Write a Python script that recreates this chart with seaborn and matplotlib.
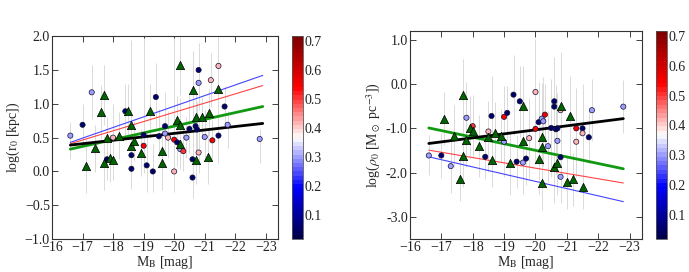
import numpy as np
import pandas as pd
import matplotlib
matplotlib.use("Agg")
import matplotlib.pyplot as plt
import seaborn as sns

# ---- left panel: log(r0) ----
lc_x = [-16.6, -17.0, -17.3, -17.8, -18.0, -18.4, -18.6, -18.6, -19.0, -19.0, -19.1, -19.3, -19.4,
        -19.5, -19.7, -19.7, -19.8, -20.0, -20.0, -20.1, -20.2, -20.3, -20.4, -20.5, -20.6, -20.6,
        -20.7, -20.75, -20.8, -20.8, -20.8, -21.0, -21.25, -21.2, -21.45, -21.45, -21.65, -21.75, -22.8]
lc_y = [0.53, 0.69, 1.17, 0.18, 0.50, 0.89, 0.04, 0.24, 0.38, 0.54, 0.09, 0.00, 1.10,
        0.52, 0.67, 0.56, 0.50, 0.47, 0.00, 0.43, 0.33, 0.30, 0.50, 0.63, -0.09, 0.18,
        0.67, 0.62, 0.28, 1.31, 1.50, 0.51, 0.46, 1.35, 1.56, 0.53, 0.96, 0.69, 0.48]
lc_c = [0.30, 0.05, 0.30, 0.05, 0.42, 0.05, 0.05, 0.05, 0.55, 0.05, 0.05, 0.05, 0.05,
        0.05, 0.05, 0.30, 0.42, 0.55, 0.42, 0.05, 0.30, 0.50, 0.30, 0.05, 0.05, 0.05,
        0.05, 0.05, 0.42, 0.30, 0.05, 0.30, 0.55, 0.42, 0.42, 0.05, 0.05, 0.30, 0.30]
lc_elo = [0.35, 0.3, 0.4, 0.3, 0.35, 0.35, 0.3, 0.35, 0.4, 0.3, 0.4, 0.3, 0.45,
          0.3, 0.35, 0.3, 0.3, 0.3, 0.3, 0.35, 0.3, 0.3, 0.3, 0.35, 0.3, 0.3,
          0.4, 0.3, 0.3, 0.4, 0.4, 0.35, 0.3, 0.4, 0.4, 0.4, 0.3, 0.35, 0.35]
lc_ehi = [0.2, 0.3, 0.4, 0.5, 0.5, 0.4, 1.9, 0.6, 1.6, 0.3, 0.5, 0.4, 0.5,
          0.4, 0.5, 0.3, 0.4, 1.5, 0.5, 0.4, 0.4, 0.4, 0.3, 0.5, 0.5, 1.6,
          0.4, 0.4, 0.5, 0.4, 0.4, 0.4, 0.3, 0.4, 0.45, 0.4, 0.3, 0.2, 0.15]

lt_x = [-17.1, -17.4, -17.6, -17.7, -17.7, -17.8, -17.9, -18.0, -18.2, -18.5, -18.6, -18.6, -18.7,
        -18.9, -19.2, -19.6, -19.6, -20.1, -20.2, -20.2, -20.2, -20.6, -20.7, -20.7, -20.9, -21.1,
        -21.15, -21.45]
lt_y = [0.08, 0.34, 0.88, 1.13, 0.12, 0.50, 0.20, 0.17, 0.53, 0.89, 0.68, 0.38, 0.45,
        0.28, 0.89, 0.30, 0.12, 0.76, 0.68, 1.58, 0.40, 1.20, 0.80, 0.17, 0.80, 0.22,
        0.87, 1.22]
lt_err = [0.4, 0.35, 0.4, 0.45, 0.4, 0.3, 0.35, 0.3, 0.35, 0.4, 0.4, 0.35, 0.3,
          0.35, 0.4, 0.35, 0.4, 0.35, 0.4, 0.45, 0.35, 0.4, 0.35, 0.35, 0.3, 0.4,
          0.35, 0.4]

l_fit_x = [-16.6, -22.9]
l_fit = {"blue": [0.43, 1.42], "red": [0.41, 1.27], "green": [0.33, 0.96], "black": [0.39, 0.71]}

# ---- right panel: log(rho0) ----
rc_x = [-16.6, -17.0, -17.3, -17.8, -18.0, -18.4, -18.5, -18.6, -19.0, -19.0, -19.1, -19.3, -19.4,
        -19.5, -19.6, -19.7, -19.8, -20.0, -20.0, -20.1, -20.2, -20.25, -20.3, -20.4, -20.5, -20.6,
        -20.6, -20.65, -20.7, -20.7, -20.8, -20.8, -20.8, -21.3, -21.3, -21.5, -21.5, -21.7, -21.8, -22.8]
rc_y = [-1.61, -1.61, -1.85, -0.76, -0.95, -1.64, -1.07, -0.72, -0.74, -1.30, -0.65, -0.24, -1.75,
        -0.39, -1.77, -1.68, -1.22, -0.18, -1.01, -0.86, -0.78, -0.84, -0.69, -1.40, -0.99, -0.39,
        -0.51, -1.02, -1.00, -1.28, -0.59, -1.65, -2.09, -1.00, -1.30, -1.00, -1.11, -1.20, -0.59, -0.51]
rc_c = [0.30, 0.05, 0.30, 0.30, 0.50, 0.05, 0.42, 0.05, 0.55, 0.30, 0.05, 0.05, 0.05,
        0.05, 0.30, 0.05, 0.42, 0.42, 0.55, 0.05, 0.30, 0.30, 0.55, 0.30, 0.05, 0.05,
        0.05, 0.05, 0.05, 0.30, 0.42, 0.05, 0.30, 0.55, 0.42, 0.05, 0.42, 0.05, 0.30, 0.30]
rc_err = [0.45, 0.5, 0.6, 0.8, 0.7, 0.5, 0.6, 0.9, 0.7, 0.8, 0.6, 0.9, 0.6,
          0.8, 0.7, 0.6, 0.9, 1.2, 0.8, 0.9, 0.8, 1.0, 0.7, 0.8, 1.1, 1.0,
          0.9, 1.0, 0.8, 0.9, 1.3, 0.7, 0.6, 0.9, 0.8, 1.0, 0.7, 0.6, 0.7, 0.6]

rt_x = [-17.1, -17.4, -17.6, -17.7, -17.7, -17.8, -17.9, -18.0, -18.2, -18.5, -18.6, -18.7, -18.9,
        -19.2, -19.6, -19.6, -20.1, -20.2, -20.2, -20.2, -20.6, -20.7, -20.8, -21.0, -21.1, -21.2, -21.5]
rt_y = [-0.78, -1.17, -2.14, -0.24, -1.62, -1.26, -0.98, -1.06, -1.39, -1.19, -1.71, -1.11, -1.17,
        -1.79, -0.50, -1.28, -1.68, -1.19, -1.43, -2.24, -1.88, -1.79, -0.50, -2.21, -0.73, -2.15, -2.31]
rt_err = [0.6, 0.7, 0.5, 0.8, 0.7, 0.6, 0.7, 0.6, 0.7, 0.8, 0.6, 0.7, 0.6,
          0.7, 0.9, 0.7, 0.8, 0.9, 0.7, 0.6, 0.8, 0.7, 1.0, 0.6, 0.9, 0.6, 0.5]

r_fit_x = [-16.6, -22.8]
r_fit = {"blue": [-1.64, -2.65], "red": [-1.49, -2.23], "green": [-0.99, -1.91], "black": [-1.34, -0.78]}

# ---- style ----
sns.set_style("ticks")
plt.rcParams["font.family"] = "serif"
plt.rcParams["font.serif"] = ["Liberation Serif", "DejaVu Serif"]
plt.rcParams["mathtext.fontset"] = "stix"
plt.rcParams["axes.edgecolor"] = "#333333"
plt.rcParams["xtick.color"] = "#222222"
plt.rcParams["ytick.color"] = "#222222"

cmap = plt.get_cmap("seismic").resampled(48)
norm = matplotlib.colors.Normalize(vmin=0.017, vmax=0.718)
line_style = {"blue": ("#4444ff", 0.8), "red": ("#ff4444", 0.8),
              "green": ("#119911", 2.0), "black": ("black", 2.0)}

fig = plt.figure(figsize=(6.89, 2.72), dpi=100)
ax1 = fig.add_axes([0.0755, 0.121, 0.328, 0.746])
cax1 = fig.add_axes([0.424, 0.121, 0.016, 0.746])
ax2 = fig.add_axes([0.595, 0.12, 0.337, 0.767])
cax2 = fig.add_axes([0.952, 0.12, 0.016, 0.767])


def panel(ax, cax, cx, cy, cc, celo, cehi, tx, ty, terr, fx, fits):
    ax.errorbar(cx, cy, yerr=[celo, cehi], fmt="none", ecolor="#dadada", elinewidth=0.7, zorder=1)
    ax.errorbar(tx, ty, yerr=terr, fmt="none", ecolor="#dadada", elinewidth=0.7, zorder=1)
    for name in ["blue", "red", "green", "black"]:
        col, lw = line_style[name]
        sns.lineplot(x=fx, y=fits[name], color=col, lw=lw, ax=ax, zorder=2)
    df_c = pd.DataFrame({"x": cx, "y": cy, "c": cc})
    ax.scatter(df_c["x"], df_c["y"], c=df_c["c"], cmap=cmap, norm=norm, s=14,
               edgecolors="#111133", linewidths=0.5, zorder=3)
    df_t = pd.DataFrame({"x": tx, "y": ty})
    sns.scatterplot(data=df_t, x="x", y="y", marker="^", s=36, color="#006400",
                    edgecolor="black", linewidth=0.5, ax=ax, zorder=4)
    ax.set_xlim(-16, -23.4)
    ax.set_xticks([-16, -17, -18, -19, -20, -21, -22, -23])
    ax.tick_params(direction="in", top=True, right=True, length=4, width=0.6,
                   labelsize=10, pad=1.5)
    for s in ax.spines.values():
        s.set_linewidth(0.8)
    ax.set_xlabel(r"M$_\mathrm{B}$ [mag]", fontsize=10, labelpad=0)
    sm = matplotlib.cm.ScalarMappable(norm=norm, cmap=cmap)
    cb = fig.colorbar(sm, cax=cax, ticks=[0.1, 0.2, 0.3, 0.4, 0.5, 0.6, 0.7])
    cb.ax.tick_params(labelsize=10, length=0, pad=1)
    cb.outline.set_edgecolor("#555555")
    cb.outline.set_linewidth(0.6)


panel(ax1, cax1, lc_x, lc_y, lc_c, lc_elo, lc_ehi, lt_x, lt_y, lt_err, l_fit_x, l_fit)
ax1.set_ylim(-1.0, 2.0)
ax1.set_yticks([-1.0, -0.5, 0.0, 0.5, 1.0, 1.5, 2.0])
ax1.set_ylabel(r"log(r$_0$ [kpc])", fontsize=10, labelpad=2)

panel(ax2, cax2, rc_x, rc_y, rc_c, rc_err, rc_err, rt_x, rt_y, rt_err, r_fit_x, r_fit)
ax2.set_ylim(-3.5, 1.2)
ax2.set_yticks([1.0, 0.0, -1.0, -2.0, -3.0])
ax2.set_yticklabels(["1.0", "0.0", "-1.0", "-2.0", "-3.0"])
ax2.set_ylabel(r"log($\rho_0$ [M$_\odot$ pc$^{-3}$])", fontsize=10, labelpad=2)

fig.savefig("out.png", dpi=100)
